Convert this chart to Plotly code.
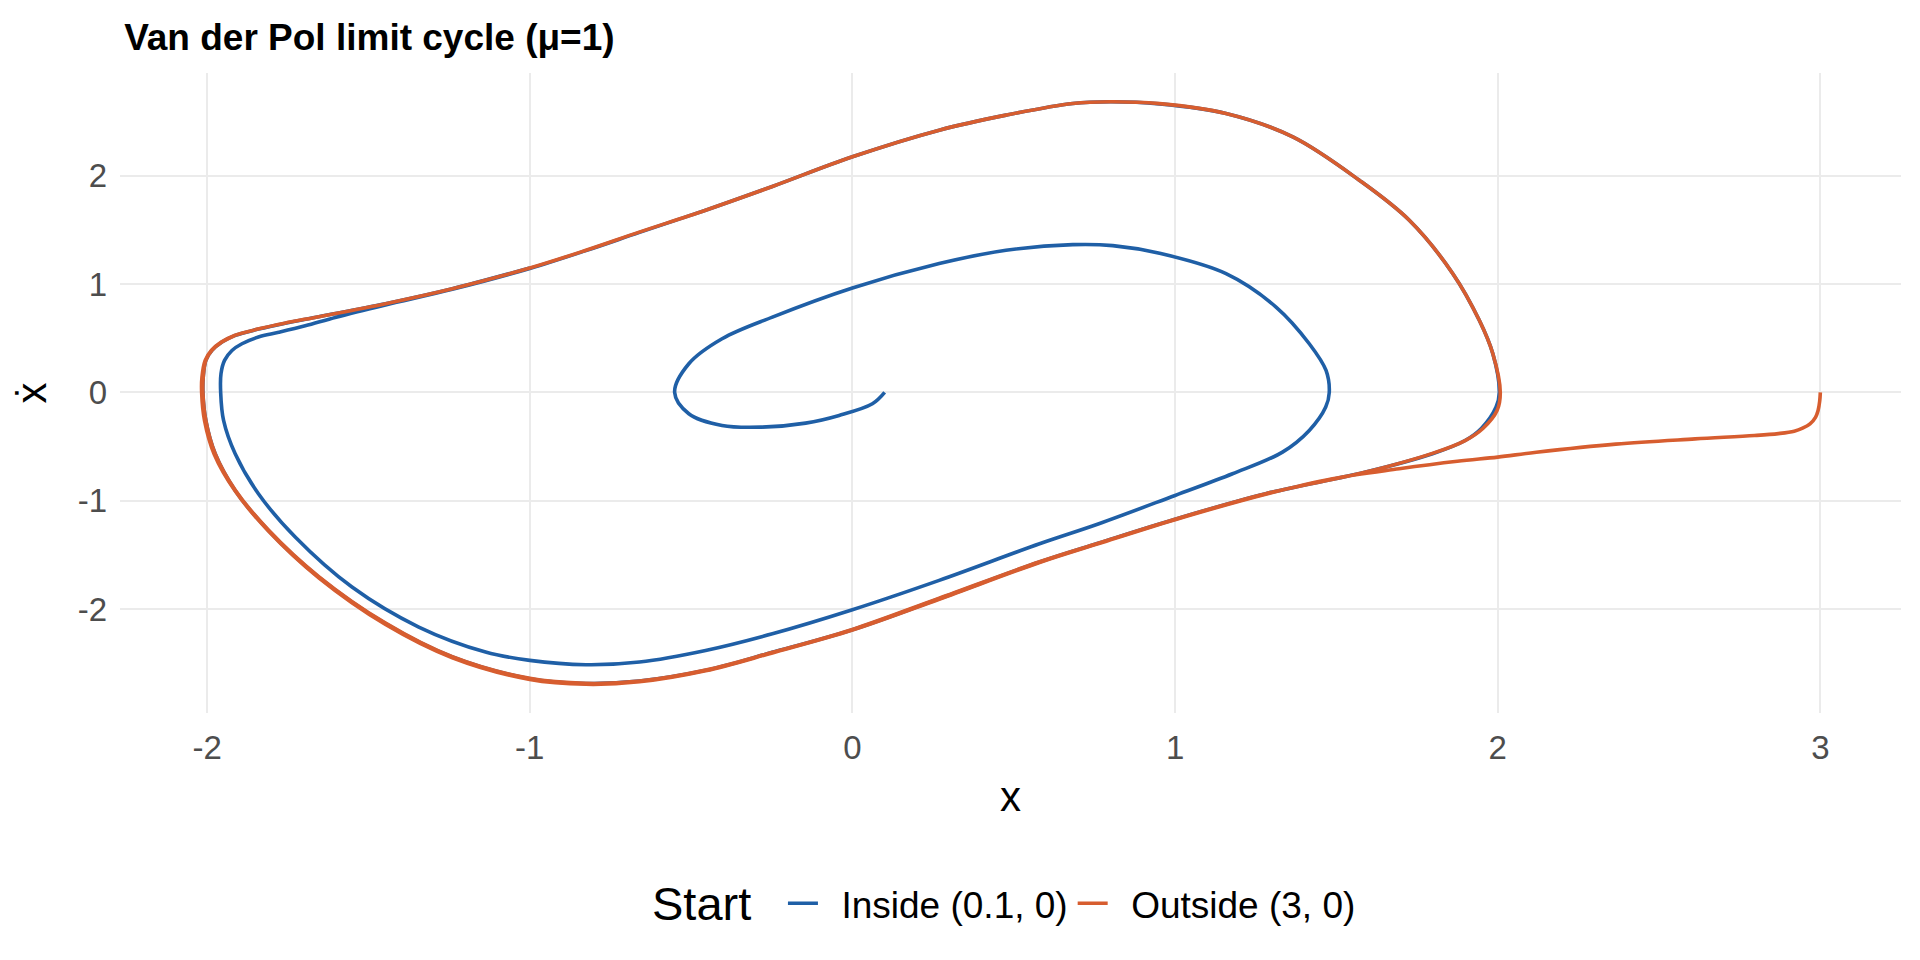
import plotly.graph_objects as go

# values (x, x-dot), in drawing order
inside_x = [
    0.10, 0.062, -0.041, -0.145, -0.28, -0.404, -0.507, -0.551,
    -0.507, -0.404, -0.248, 0.0, 0.269, 0.476, 0.683, 0.807, 0.952,
    1.158, 1.313, 1.416, 1.468, 1.478, 1.467, 1.416, 1.333, 1.178,
    1.0, 0.764, 0.58, 0.269, 0.0, -0.248, -0.455, -0.66, -0.826,
    -1.0, -1.137, -1.344, -1.551, -1.727, -1.841, -1.913, -1.949,
    -1.958, -1.957, -1.946, -1.923, -1.892, -1.841, -1.778, -1.696, -1.60,
    -1.447, -1.24,
    -1.0, -0.826, -0.66, -0.455, -0.248, 0.0, 0.269, 0.476, 0.683,
    0.80, 0.952, 1.158, 1.365, 1.571, 1.726, 1.861, 1.943, 1.985,
    2.005, 1.995, 1.95, 1.899, 1.798, 1.591, 1.281, 1.0, 0.764,
    0.58, 0.269, 0.0, -0.248, -0.455, -0.66, -0.826, -1.0, -1.24,
    -1.447, -1.654, -1.81, -1.913, -1.975, -2.004, -2.013, -2.012,
    -2.004, -1.985, -1.954, -1.913, -1.841, -1.758, -1.654, -1.447, -1.24, -1.0,
]
inside_y = [
    0.0, -0.105, -0.212, -0.283, -0.32, -0.305, -0.197, 0.0,
    0.265, 0.496, 0.696, 0.965, 1.19, 1.313, 1.365, 1.356, 1.285,
    1.097, 0.789, 0.45, 0.203, 0.0, -0.135, -0.351, -0.551, -0.751,
    -0.951, -1.212, -1.397, -1.735, -2.006, -2.228, -2.382, -2.489, -2.514,
    -2.474, -2.397, -2.166, -1.797, -1.335, -0.935, -0.566, -0.258,
    0.0, 0.173, 0.296, 0.388, 0.45, 0.512, 0.555, 0.615, 0.695,
    0.808, 0.952,
    1.145, 1.31, 1.478, 1.683, 1.902, 2.176, 2.422, 2.561, 2.669,
    2.685, 2.665, 2.576, 2.36, 1.96, 1.59, 1.097, 0.666, 0.357,
    0.0, -0.135, -0.33, -0.444, -0.566, -0.735, -0.935, -1.17, -1.39,
    -1.566, -1.905, -2.191, -2.40, -2.566, -2.665, -2.687, -2.643, -2.443,
    -2.135, -1.705, -1.274, -0.905, -0.566, -0.258, 0.0, 0.142,
    0.296, 0.388, 0.465, 0.527, 0.585, 0.64, 0.70, 0.82, 0.958, 1.149,
]

outside_x = [
    3.0, 2.998, 2.993, 2.985, 2.968, 2.945, 2.919, 2.87, 2.796,
    2.612, 2.366, 2.12, 2.0, 1.875, 1.695, 1.488, 1.281, 1.0,
    0.764, 0.58, 0.269, 0.0, -0.248, -0.455, -0.66, -0.826, -1.0,
    -1.24, -1.447, -1.654, -1.81, -1.913, -1.978, -2.008, -2.017,
    -2.016, -2.006, -1.987, -1.956, -1.915, -1.843, -1.76, -1.654,
    -1.447, -1.24, -1.0,
    -0.826, -0.663, -0.455, -0.248, 0.0, 0.269, 0.476, 0.683, 0.80,
    0.952, 1.158, 1.365, 1.571, 1.726, 1.861, 1.943, 1.985, 2.008,
    1.998, 1.955, 1.899, 1.80, 1.591, 1.281, 1.0, 0.764, 0.58,
    0.269, 0.0, -0.248, -0.455, -0.66, -0.826, -1.0, -1.24, -1.447,
    -1.654, -1.81, -1.913, -1.975, -2.004, -2.013, -2.012, -2.004, -1.985,
    -1.954, -1.913,
]
outside_y = [
    0.0, -0.08, -0.167, -0.23, -0.29, -0.33, -0.358, -0.38, -0.398,
    -0.429, -0.477, -0.552, -0.597, -0.636, -0.705, -0.797, -0.94, -1.175,
    -1.395, -1.57, -1.91, -2.195, -2.405, -2.57, -2.672, -2.695, -2.65,
    -2.45, -2.143, -1.712, -1.28, -0.91, -0.57, -0.26, 0.0,
    0.142, 0.296, 0.388, 0.465, 0.527, 0.585, 0.64, 0.70,
    0.82, 0.958, 1.149,
    1.313, 1.478, 1.683, 1.902, 2.176, 2.422, 2.561, 2.669, 2.685,
    2.667, 2.576, 2.36, 1.96, 1.59, 1.097, 0.666, 0.357, 0.0,
    -0.167, -0.33, -0.444, -0.56, -0.735, -0.935, -1.17, -1.39, -1.563,
    -1.90, -2.188, -2.40, -2.563, -2.665, -2.686, -2.64, -2.44, -2.13,
    -1.70, -1.27, -0.90, -0.565, -0.258, 0.0, 0.142, 0.296, 0.388,
    0.465, 0.527,
]

x_ticks = [-2, -1, 0, 1, 2, 3]
x_ticktext = ["-2", "-1", "0", "1", "2", "3"]
y_ticks = [-2, -1, 0, 1, 2]
y_ticktext = ["-2", "-1", "0", "1", "2"]

series = [
    ("Inside (0.1, 0)", inside_x, inside_y, "#1F5FA6"),
    ("Outside (3, 0)", outside_x, outside_y, "#D75D2F"),
]

font = "Liberation Sans, Arial, sans-serif"

fig = go.Figure()
for name, xs, ys, color in series:
    fig.add_trace(
        go.Scatter(
            x=xs,
            y=ys,
            name="\u2002" + name,
            mode="lines",
            line=dict(color=color, width=3.6, shape="spline", smoothing=1.0),
        )
    )

axis_common = dict(
    showline=False,
    zeroline=False,
    showgrid=True,
    gridcolor="#EBEBEB",
    gridwidth=2,
    ticks="",
    tickfont=dict(family=font, size=33, color="#4D4D4D"),
)

# the page body adds an 8px margin, so the figure is 16px smaller than the window
fig.update_layout(
    width=1904,
    height=944,
    margin=dict(l=112, r=11, t=65, b=239),
    paper_bgcolor="white",
    plot_bgcolor="white",
    font=dict(family=font, color="black"),
    title=dict(
        text="<b>Van der Pol limit cycle (μ=1)</b>",
        font=dict(family=font, size=37, color="black"),
        x=0.061,
        xanchor="left",
        xref="container",
        y=0.969,
        yanchor="middle",
        yref="container",
    ),
    xaxis=dict(
        axis_common,
        range=[-2.27, 3.25],
        tickvals=x_ticks,
        ticktext=x_ticktext,
        ticklabelstandoff=12,
        title=dict(text="x", font=dict(family=font, size=42), standoff=16),
    ),
    yaxis=dict(
        axis_common,
        range=[-2.96, 2.95],
        tickvals=y_ticks,
        ticktext=y_ticktext,
        ticklabelstandoff=12,
        title=dict(text="ẋ", font=dict(family=font, size=42), standoff=22),
    ),
    legend=dict(
        orientation="h",
        x=0.5345,
        xanchor="center",
        y=-0.298,
        yanchor="middle",
        font=dict(family=font, size=37, color="black"),
    ),
)

fig.add_annotation(
    text="Start",
    xref="paper",
    yref="paper",
    x=0.3554,
    y=-0.298,
    xanchor="right",
    yanchor="middle",
    showarrow=False,
    font=dict(family=font, size=47, color="black"),
)

fig.write_html("out.html")
